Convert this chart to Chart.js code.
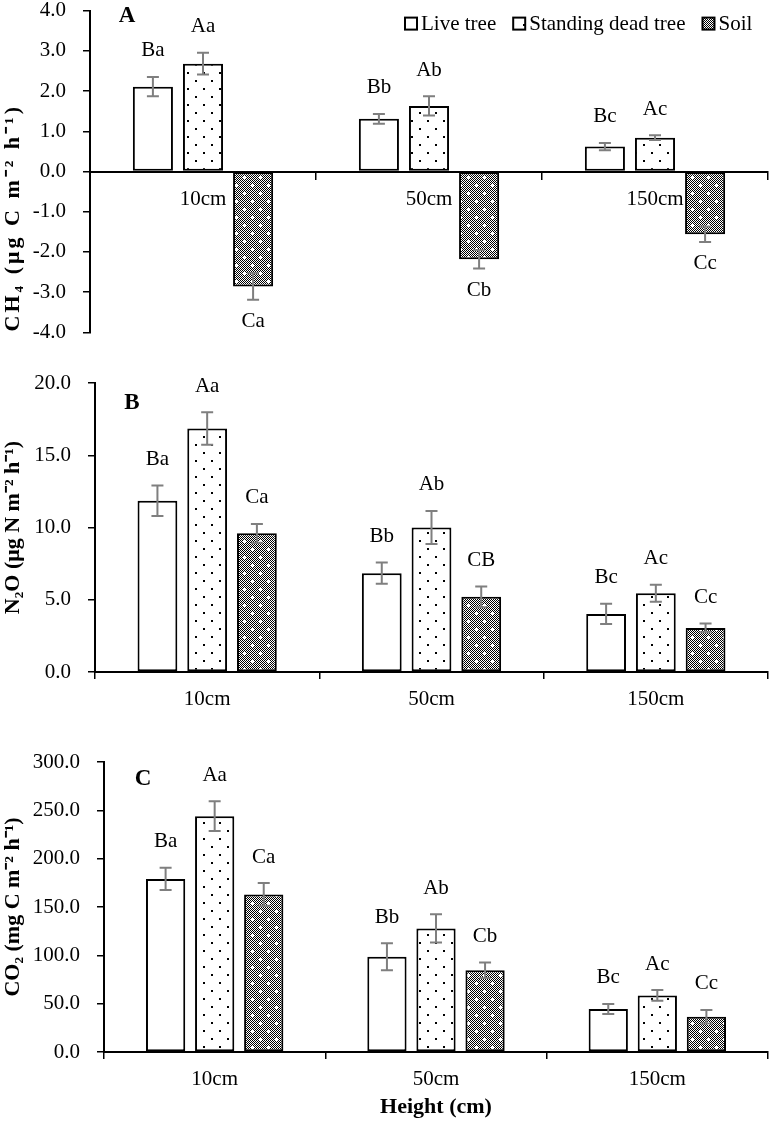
<!DOCTYPE html>
<html>
<head>
<meta charset="utf-8">
<script src="https://cdn.jsdelivr.net/npm/chart.js@4.4.0/dist/chart.umd.min.js"></script>
<style>
  body { margin: 0; background: #fff; width: 770px; height: 1121px; position: relative; overflow: hidden; }
  canvas { position: absolute; left: 0; }
</style>
</head>
<body>
<canvas id="chartA" width="770" height="381" style="top:-19px"></canvas>
<canvas id="chartB" width="770" height="370" style="top:345px"></canvas>
<canvas id="chartC" width="770" height="406" style="top:715px"></canvas>
<script>
const heights = ['10cm', '50cm', '150cm'];
const seriesNames = ['Live tree', 'Standing dead tree', 'Soil'];

// A - CH4
const ch4Live = [2.11, 1.31, 0.62];
const ch4Dead = [2.68, 1.63, 0.84];
const ch4Soil = [-2.86, -2.18, -1.56];
const ch4LiveErr = [0.24, 0.12, 0.09];
const ch4DeadErr = [0.27, 0.24, 0.06];
const ch4SoilErr = [0.33, 0.23, 0.19];
const ch4LiveTag = ['Ba', 'Bb', 'Bc'];
const ch4DeadTag = ['Aa', 'Ab', 'Ac'];
const ch4SoilTag = ['Ca', 'Cb', 'Cc'];
const ch4Axis = [-4, 4, 1];

// B - N2O
const n2oLive = [11.85, 6.84, 4.02];
const n2oDead = [16.85, 10.0, 5.45];
const n2oSoil = [9.6, 5.2, 3.05];
const n2oLiveErr = [1.05, 0.73, 0.7];
const n2oDeadErr = [1.13, 1.15, 0.58];
const n2oSoilErr = [0.65, 0.72, 0.3];
const n2oLiveTag = ['Ba', 'Bb', 'Bc'];
const n2oDeadTag = ['Aa', 'Ab', 'Ac'];
const n2oSoilTag = ['Ca', 'CB', 'Cc'];
const n2oAxis = [0, 20, 5];

// C - CO2
const co2Live = [179, 98.5, 44.5];
const co2Dead = [244, 127.8, 58.5];
const co2Soil = [163, 84.6, 36.5];
const co2LiveErr = [11.5, 14, 5.2];
const co2DeadErr = [15.5, 14.6, 5.6];
const co2SoilErr = [11.8, 8, 7];
const co2LiveTag = ['Ba', 'Bb', 'Bc'];
const co2DeadTag = ['Aa', 'Ab', 'Ac'];
const co2SoilTag = ['Ca', 'Cb', 'Cc'];
const co2Axis = [0, 300, 50];

const serif = '"Liberation Serif", "Times New Roman", serif';

// fill patterns
function dotPattern() {
    const c = document.createElement('canvas');
    c.width = 16; c.height = 16;
    const g = c.getContext('2d');
    g.fillStyle = '#fff';
    g.fillRect(0, 0, 16, 16);
    g.fillStyle = '#000';
    g.fillRect(3, 3, 2, 2);
    g.fillRect(11, 11, 2, 2);
    return g.createPattern(c, 'repeat');
}

function soilPattern() {
    const c = document.createElement('canvas');
    c.width = 16; c.height = 16;
    const g = c.getContext('2d');
    g.fillStyle = '#000';
    g.fillRect(0, 0, 16, 16);
    g.fillStyle = '#fff';
    for (let x = 0; x < 16; x++) {
        for (let y = 0; y < 16; y++) {
            if ((x + y) % 2 === 0) g.fillRect(x, y, 1, 1);
        }
    }
    [[4, 4], [12, 12]].forEach(([cx, cy]) => {
        g.fillRect(cx - 1, cy, 3, 1);
        g.fillRect(cx, cy - 1, 1, 3);
    });
    return g.createPattern(c, 'repeat');
}

const fills = ['#fff', dotPattern(), soilPattern()];

// error bars + letter tags above/below each bar
const errorTagPlugin = {
    id: 'errorTags',
    afterDatasetsDraw(chart) {
        const ctx = chart.ctx;
        const y = chart.scales.y;
        ctx.save();
        chart.data.datasets.forEach((ds, i) => {
            const meta = chart.getDatasetMeta(i);
            meta.data.forEach((bar, j) => {
                const v = ds.data[j];
                const e = ds.errors[j];
                const top = y.getPixelForValue(v + e);
                const bot = y.getPixelForValue(v - e);
                ctx.strokeStyle = '#7f7f7f';
                ctx.lineWidth = 2;
                ctx.beginPath();
                ctx.moveTo(bar.x, top); ctx.lineTo(bar.x, bot);
                ctx.moveTo(bar.x - 6, top); ctx.lineTo(bar.x + 6, top);
                ctx.moveTo(bar.x - 6, bot); ctx.lineTo(bar.x + 6, bot);
                ctx.stroke();

                ctx.fillStyle = '#000';
                ctx.font = '21px ' + serif;
                ctx.textAlign = 'center';
                ctx.textBaseline = 'middle';
                const ty = v >= 0 ? top - 26 : bot + 22;
                ctx.fillText(ds.tags[j], bar.x, ty);
            });
        });
        ctx.restore();
    }
};

const panelPlugin = {
    id: 'panelDeco',
    afterDraw(chart, args, opts) {
        const ctx = chart.ctx;
        const area = chart.chartArea;
        ctx.save();
        ctx.fillStyle = '#000';
        ctx.font = 'bold 23px ' + serif;
        ctx.textAlign = 'center';
        ctx.textBaseline = 'middle';
        ctx.fillText(opts.letter, area.left + opts.dx, area.top + opts.dy);

        if (opts.legend) {
            ctx.font = '21px ' + serif;
            ctx.textAlign = 'left';
            let x = opts.legend.x;
            const ly = area.top + opts.legend.dy;
            chart.data.datasets.forEach(ds => {
                ctx.fillStyle = ds.backgroundColor;
                ctx.fillRect(x, ly - 6, 12, 12);
                ctx.lineWidth = 2;
                ctx.strokeStyle = '#000';
                ctx.strokeRect(x, ly - 6, 12, 12);
                ctx.fillStyle = '#000';
                ctx.fillText(ds.label, x + 16, ly + 1);
                x += 16 + ctx.measureText(ds.label).width + 17;
            });
        }

        // spaced-out rotated axis title (panel A)
        if (opts.sideTitle) {
            ctx.translate(opts.sideTitle.x, area.bottom - 1);
            ctx.rotate(-Math.PI / 2);
            ctx.font = 'bold 22px ' + serif;
            ctx.textAlign = 'left';
            ctx.textBaseline = 'middle';
            ctx.letterSpacing = opts.sideTitle.spacing;
            ctx.fillStyle = '#000';
            ctx.fillText(opts.sideTitle.text, 0, 0);
        }
        ctx.restore();
    }
};

function makePanel(id, cfg) {
    const datasets = cfg.values.map((vals, i) => ({
        label: seriesNames[i],
        data: vals,
        errors: cfg.errors[i],
        tags: cfg.tags[i],
        backgroundColor: fills[i],
        borderColor: '#000',
        borderWidth: 2,
        borderSkipped: false,
        categoryPercentage: 0.665,
        barPercentage: 0.8
    }));

    new Chart(document.getElementById(id).getContext('2d'), {
        type: 'bar',
        data: { labels: heights, datasets: datasets },
        options: {
            responsive: false,
            animation: false,
            events: [],
            layout: { padding: cfg.padding },
            plugins: {
                legend: { display: false },
                tooltip: { enabled: false },
                panelDeco: {
                    letter: cfg.letter, dx: cfg.letterOffset[0], dy: cfg.letterOffset[1],
                    legend: cfg.legend, sideTitle: cfg.sideTitle
                }
            },
            scales: {
                x: {
                    position: cfg.xAtZero ? { y: 0 } : 'bottom',
                    afterFit(scale) { scale.height = cfg.xHeight; },
                    grid: { offset: true, drawOnChartArea: false, drawTicks: true, tickLength: 7, color: '#000', lineWidth: 1.5 },
                    border: { display: true, color: '#000', width: 2 },
                    ticks: { color: '#000', font: { family: serif, size: 21 }, padding: 8, maxRotation: 0 },
                    title: cfg.xTitle ? {
                        display: true, text: cfg.xTitle, color: '#000',
                        font: { family: serif, size: 22, weight: 'bold' },
                        padding: { top: 3, bottom: 0 }
                    } : { display: false }
                },
                y: {
                    min: cfg.axis[0],
                    max: cfg.axis[1],
                    afterFit(scale) { scale.width = cfg.yWidth; },
                    grid: { drawOnChartArea: false, drawTicks: true, tickLength: 7, color: '#000', lineWidth: 1.5 },
                    border: { display: true, color: '#000', width: 2 },
                    ticks: {
                        stepSize: cfg.axis[2],
                        color: '#000',
                        font: { family: serif, size: 21 },
                        padding: 17,
                        callback: v => v.toFixed(1)
                    },
                    title: {
                        display: !!cfg.yTitle, text: cfg.yTitle || '', color: '#000',
                        font: { family: serif, size: 22, weight: 'bold' },
                        padding: { top: 0, bottom: 0 }
                    }
                }
            }
        },
        plugins: [errorTagPlugin, panelPlugin]
    });
}

makePanel('chartA', {
    values: [ch4Live, ch4Dead, ch4Soil],
    errors: [ch4LiveErr, ch4DeadErr, ch4SoilErr],
    tags: [ch4LiveTag, ch4DeadTag, ch4SoilTag],
    axis: ch4Axis,
    sideTitle: { text: 'CH\u2084 (\u03bcg C m\u207b\u00b2 h\u207b\u00b9)', x: 13, spacing: '3px' },
    yWidth: 90,
    xHeight: 0,
    xAtZero: true,
    padding: { top: 0, right: 2, bottom: 15, left: 0 },
    letter: 'A',
    letterOffset: [37, 5],
    legend: { x: 405, dy: 13 }
});

makePanel('chartB', {
    values: [n2oLive, n2oDead, n2oSoil],
    errors: [n2oLiveErr, n2oDeadErr, n2oSoilErr],
    tags: [n2oLiveTag, n2oDeadTag, n2oSoilTag],
    axis: n2oAxis,
    yTitle: 'N\u2082O (\u03bcg N m\u207b\u00b2 h\u207b\u00b9)',
    yWidth: 95,
    xHeight: 43,
    padding: { top: 38, right: 2, bottom: 0, left: 0 },
    letter: 'B',
    letterOffset: [37, 20]
});

makePanel('chartC', {
    values: [co2Live, co2Dead, co2Soil],
    errors: [co2LiveErr, co2DeadErr, co2SoilErr],
    tags: [co2LiveTag, co2DeadTag, co2SoilTag],
    axis: co2Axis,
    yTitle: 'CO\u2082 (mg C m\u207b\u00b2 h\u207b\u00b9)',
    yWidth: 104,
    xHeight: 69,
    xTitle: 'Height (cm)',
    padding: { top: 47, right: 2, bottom: 0, left: 0 },
    letter: 'C',
    letterOffset: [39, 17]
});
</script>
</body>
</html>
